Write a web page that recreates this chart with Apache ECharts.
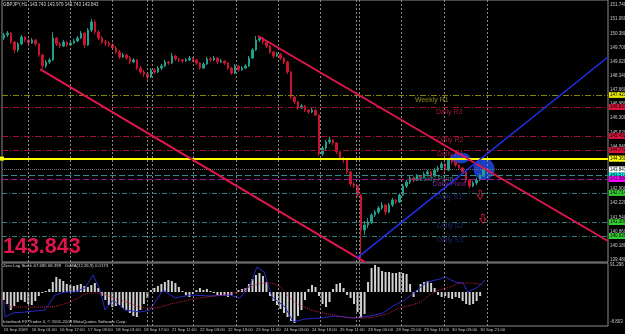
<!DOCTYPE html>
<html><head><meta charset="utf-8">
<script src="https://cdn.jsdelivr.net/npm/echarts@6/dist/echarts.min.js"></script>
<style>html,body{margin:0;padding:0;background:#000;}#c{width:625px;height:334px;}</style>
</head><body><div id="c"></div>
<script>
const FONT = 'Liberation Sans, Arial, sans-serif';
const headerText = 'GBPJPY,H1  143.743 143.979 143.743 143.843';
const lastPriceText = '143.843';
const indicatorText = 'Zero Lag Stoch 67.685 68.399   OsMA(12,26,9) 0.0173';
const footerText = 'Interbank FX Trader 4, \u00a9 2001-2009 MetaQuotes Software Corp.';

const xTickLabels = ['15 Sep 2009','16 Sep 01:00','16 Sep 17:00','17 Sep 09:00','18 Sep 01:00','18 Sep 17:00','21 Sep 11:00','22 Sep 03:00','22 Sep 19:00','23 Sep 11:00','24 Sep 03:00','24 Sep 19:00','25 Sep 11:00','28 Sep 05:00','28 Sep 21:00','29 Sep 13:00','30 Sep 05:00','30 Sep 21:00'];
const priceTicks = [151.74,151.06,150.38,149.70,149.02,148.34,147.66,146.98,146.30,145.62,144.94,144.26,143.58,142.90,142.22,141.54,140.86,140.18,139.48];
const indTickValues = [27,-30];
const indTickLabels = ['91.296','-8.803'];

// 2-hour candles [open, close, low, high]
const ohlc = [
[150.15,150.30,150.06,150.40],[150.30,150.39,150.20,150.49],[150.39,149.96,149.87,150.44],[149.96,149.58,149.43,150.01],
[149.58,149.87,149.48,149.96],[149.87,150.20,149.82,150.30],[150.20,150.06,149.96,150.25],[150.06,149.91,149.82,150.11],
[149.91,150.06,149.87,150.15],[150.06,149.87,149.77,150.11],[149.87,149.34,149.24,149.91],[149.34,148.81,148.66,149.39],
[148.81,149.00,148.71,149.10],[149.00,149.10,148.90,149.19],[149.10,150.15,149.05,150.44],[150.15,149.87,149.77,150.20],
[149.87,149.77,149.67,149.96],[149.77,149.96,149.72,150.06],[149.96,149.82,149.72,150.01],[149.82,149.91,149.77,150.01],
[149.91,150.01,149.87,150.11],[150.01,150.15,149.96,150.25],[150.15,150.39,150.11,150.49],[150.39,149.82,149.67,150.44],
[149.82,150.54,149.77,150.63],[150.54,150.92,150.44,151.07],[150.92,150.44,150.35,151.02],[150.44,150.15,150.06,150.54],
[150.15,149.96,149.87,150.25],[149.96,149.91,149.77,150.06],[149.91,149.82,149.72,150.01],[149.82,149.67,149.58,149.91],
[149.67,149.48,149.39,149.77],[149.48,149.24,149.15,149.58],[149.24,149.34,149.19,149.43],[149.34,149.19,149.10,149.39],
[149.19,149.00,148.90,149.29],[149.00,149.10,148.95,149.19],[149.10,148.71,148.62,149.15],[148.71,148.52,148.42,148.81],
[148.52,148.42,148.28,148.62],[148.42,148.28,148.14,148.52],[148.28,148.62,148.23,148.71],[148.62,148.52,148.42,148.71],
[148.52,148.71,148.47,148.81],[148.71,148.81,148.62,148.90],[148.81,149.00,148.76,149.10],[149.00,148.95,148.86,149.05],
[148.95,149.29,148.90,149.43],[149.29,149.15,149.05,149.34],[149.15,149.10,149.00,149.19],[149.10,149.05,148.95,149.15],
[149.05,149.10,149.00,149.19],[149.10,149.19,149.05,149.29],[149.19,149.10,149.00,149.24],[149.10,148.95,148.86,149.15],
[148.95,148.71,148.62,149.00],[148.71,148.90,148.66,149.00],[148.90,149.15,148.86,149.24],[149.15,149.10,149.00,149.24],
[149.10,149.19,149.05,149.29],[149.19,149.00,148.90,149.24],[149.00,149.05,148.95,149.15],[149.05,148.95,148.86,149.10],
[148.95,148.71,148.62,149.00],[148.71,148.47,148.38,148.76],[148.47,148.81,148.42,148.90],[148.81,148.62,148.52,148.86],
[148.62,148.71,148.57,148.81],[148.71,148.81,148.66,148.90],[148.81,149.19,148.76,149.29],[149.19,149.58,149.15,149.67],
[149.58,150.06,149.53,150.25],[150.06,150.15,149.96,150.25],[150.15,149.96,149.87,150.20],[149.96,149.77,149.67,150.01],
[149.77,149.48,149.39,149.82],[149.48,149.29,149.19,149.53],[149.29,149.39,149.24,149.48],[149.39,149.19,149.10,149.43],
[149.19,149.00,148.90,149.24],[149.00,148.52,148.42,149.05],[148.52,147.32,147.22,148.57],[147.32,147.08,146.98,147.37],
[147.08,146.79,146.69,147.13],[146.79,146.89,146.74,146.98],[146.89,146.69,146.60,146.94],[146.69,146.60,146.50,146.74],
[146.60,146.69,146.55,146.79],[146.69,146.45,146.40,146.74],[146.45,144.58,144.48,146.50],[144.58,144.87,144.48,144.96],
[144.87,145.16,144.77,145.25],[145.16,145.25,145.06,145.45],[145.25,145.11,145.01,145.30],[145.11,144.68,144.58,145.16],
[144.68,144.39,144.29,144.73],[144.39,144.29,144.15,144.44],[144.29,143.72,143.62,144.34],[143.72,143.14,143.04,143.76],
[143.14,143.04,142.94,143.23],[143.04,142.61,142.51,143.09],[142.61,140.93,139.58,142.66],[140.93,141.17,140.69,141.36],
[141.17,141.31,141.02,141.50],[141.31,141.65,141.21,141.74],[141.65,141.79,141.55,141.89],[141.79,141.99,141.70,142.08],
[141.99,142.13,141.89,142.27],[142.13,141.79,141.65,142.18],[141.79,142.13,141.74,142.23],[142.13,142.37,142.03,142.47],
[142.37,142.27,142.18,142.42],[142.27,142.61,142.23,142.71],[142.61,143.04,142.56,143.14],[143.04,143.23,142.94,143.33],
[143.23,143.43,143.14,143.52],[143.43,143.33,143.23,143.48],[143.33,143.52,143.28,143.62],[143.52,143.48,143.38,143.57],
[143.48,143.62,143.43,143.72],[143.62,143.72,143.52,143.81],[143.72,143.52,143.43,143.76],[143.52,143.81,143.48,143.91],
[143.81,143.91,143.72,144.00],[143.91,144.10,143.81,144.20],[144.10,143.81,143.72,144.15],[143.81,144.29,143.76,144.39],
[144.29,144.20,144.10,144.34],[144.20,144.05,143.96,144.29],[144.05,143.91,143.81,144.10],[143.91,143.72,143.62,143.96],
[143.72,143.33,143.23,143.76],[143.33,143.04,142.94,143.38],[143.04,143.19,142.99,143.28],[143.19,143.33,143.09,143.43],
[143.33,143.52,143.28,143.62],[143.52,143.843,143.48,143.91]
];

const osma = [-8,-12,-18,-14,-10,-8,-10,-12,-13,-9,-4,-1,1,3,10,15,13,11,8,7,6,7,8,6,5,7,9,4,-4,-8,
-13,-15,-14,-13,-16,-18,-21,-24,-25,-18,-12,-6,2,4,6,8,10,12,11,9,5,1,-3,-5,-2,2,4,2,3,1,
-1,-3,-4,-4,-5,-3,0,2,3,4,8,13,17,19,16,10,-4,-9,-13,-17,-21,-25,-29,-31,-24,-18,-8,3,7,5,
-4,-12,-15,-10,3,8,9,4,-3,-6,-12,-20,-26,-22,10,24,27,25,21,20,20,19,19,20,19,18,8,-5,2,8,
10,11,9,4,-3,-5,-4,-6,-7,-5,-6,-9,-12,-13,-12,-9,-4,0];

const stochMain = [[0.5,-10],[0.9,-25],[3.1,-21],[6.6,-20],[12.3,-18],[15.1,-3],[18,0],[20.8,0],[23.7,4],[26,17],[28,2],[29.4,-18],[31.7,-8],[35.1,-18],[39.4,-20],[42.2,-18],[46,2],[49.4,-6],[53.7,-3],[59.4,-4],[65.1,-3],[67.9,-6],[70.8,7],[72.8,25],[74.8,20],[77.1,-5],[80.8,-15],[83.1,-30],[86.5,-27],[90.8,-26],[95.1,-24],[100.8,-26],[105.1,-24],[108.8,-21],[111.6,-14],[115,-8],[117.9,0],[121.3,10],[125,13],[126.5,15],[129.3,10],[131.6,9],[133,0],[135.9,5],[137.9,12]];
const stochSignal = [[0,-6],[2.9,-15],[12.3,-15],[18.6,-11],[26,-1],[33.7,-8],[42.2,-16],[49.4,-11],[56.5,-6],[65.9,-1],[75.7,9],[85.1,-13],[94.5,-23],[102.2,-26],[108.8,-23],[113.6,-16],[119.3,-10],[123,-1],[127.9,5],[131.6,9],[133.6,9],[137.3,7]];

const daySeparators = [7.42,19.41,31.4,41.39,42.82,54.52,66.8,78.79,90.78,101.06,101.91,113.9,126.18,138.45];

const pivotBoxNames = ['147.423','146.837','145.452','144.772','143.571','143.384','142.714','141.309','140.639'];
const pivotValues = [147.423,146.837,145.452,144.772,143.571,143.384,142.714,141.309,140.639];
const pivotLineColors = ['#85850a','#a01030','#a01030','#a01030','#2e8b8b','#9a1a9a','#2f7f7f','#2f7f7f','#2f7f7f'];
const pivotBoxColors = ['#e6e600','#dc143c','#dc143c','#dc143c','#00e5e5','#ff00ff','#32cd32','#32cd32','#32cd32'];
const pivotDash = [[6,2,1,2],[6,2,1,2],[6,2,1,2],[6,2,1,2],[6,3],[6,3],[5,2,1,2],[5,2,1,2],[5,2,1,2]];
const yellowLevel = 144.36;
const yellowName = '144.360';
const lastPrice = 143.843;

const textNames = ['Weekly R1','Daily R3','Daily R2','Daily R1','Weekly Pivot','Daily Pivot','Daily S1','Daily S2','Daily S3'];
const textPos = [[117.9,147.175],[123.9,146.60],[124.2,145.25],[124.2,144.58],[117.3,143.38],[123.0,143.14],[123.9,142.51],[124.2,141.12],[124.2,140.45]];
const textColors = ['#a8a81e','#c81e46','#c81e46','#c81e46','#3aa58a','#a030b0','#243088','#243088','#243088'];

const trendRed1 = [[10.85,148.66],[103.6,139.39]];
const trendRed2 = [[73.1,150.25],[173,140.40]];
const trendBlue = [[101.3,139.58],[173,149.24]];
const circles = [[137.6,143.86],[130.8,144.39]];
const circleSizes = [[21,22],[20,11]];
const arrows = [[136.5,142.61],[137.3,141.46]];

const slots = Array.from({length:173},(_,i)=>String(i));

const chart = echarts.init(document.getElementById('c'));
const pivotMarks = pivotValues.map((v,i)=>({
  name: pivotBoxNames[i], yAxis: v,
  lineStyle:{color:pivotLineColors[i], type:pivotDash[i], width:1},
  label:{show:true, position:'end', formatter:'{b}', backgroundColor:pivotBoxColors[i], color:'#000', fontSize:4.5, padding:[1,1,0,1], distance:1, fontFamily:FONT}
}));
pivotMarks.push({name:lastPrice.toFixed(3), yAxis:lastPrice, lineStyle:{color:'#6e6e6e', type:[1,1], width:1},
  label:{show:true, position:'end', formatter:'{b}', backgroundColor:'#ffffff', color:'#000', fontSize:4.5, padding:[1,1,0,1], distance:1, fontFamily:FONT}});

const option = {
  backgroundColor:'#000',
  animation:false,
  grid:[
    {left:2, right:17, top:0, height:262, show:true, borderColor:'#8c8c8c', borderWidth:1, backgroundColor:'#000', outerBoundsMode:'none'},
    {left:2, right:17, top:263, height:63, show:true, borderColor:'#8c8c8c', borderWidth:1, backgroundColor:'#000', outerBoundsMode:'none'}
  ],
  xAxis:[
    {type:'category', gridIndex:0, data:slots, boundaryGap:true, show:false},
    {type:'value', gridIndex:0, min:0, max:173, show:false},
    {type:'category', gridIndex:1, data:slots, boundaryGap:true, axisLine:{show:false}, axisTick:{show:false}, splitLine:{show:false},
      axisLabel:{interval:7, formatter:(v,i)=> xTickLabels[i/8]||'', color:'#c8c8c8', fontSize:4.2, align:'left', margin:2, fontFamily:FONT}},
    {type:'value', gridIndex:1, min:0, max:173, show:false}
  ],
  yAxis:[
    {type:'value', gridIndex:0, position:'right', min:139.391, max:151.98, splitLine:{show:false}, axisLine:{show:false}, axisTick:{show:false},
      axisLabel:{customValues:priceTicks, formatter:v=>v.toFixed(3), color:'#c8c8c8', fontSize:4.5, margin:2, fontFamily:FONT}},
    {type:'value', gridIndex:1, position:'right', min:-34, max:29, splitLine:{show:false}, axisLine:{show:false}, axisTick:{show:false},
      axisLabel:{customValues:indTickValues, formatter:v=>indTickLabels[indTickValues.indexOf(v)]||'', color:'#c8c8c8', fontSize:4.5, margin:2, fontFamily:FONT}}
  ],
  series:[
    {type:'line', xAxisIndex:1, yAxisIndex:0, data:[], silent:true, z:1,
      markLine:{silent:true, symbol:['none','none'], label:{show:false}, lineStyle:{color:'#8a8a8a', type:[2,2], width:1}, data:daySeparators.map(v=>({xAxis:v}))}},
    {type:'line', xAxisIndex:3, yAxisIndex:1, data:[], silent:true, z:1,
      markLine:{silent:true, symbol:['none','none'], label:{show:false}, lineStyle:{color:'#8a8a8a', type:[2,2], width:1}, data:daySeparators.map(v=>({xAxis:v}))}},
    {type:'scatter', xAxisIndex:1, yAxisIndex:0, z:1, silent:true,
      data:circles.map((c,i)=>({value:c, symbolSize:circleSizes[i]})), itemStyle:{color:'#1f4ff0'}},
    {type:'candlestick', xAxisIndex:0, yAxisIndex:0, data:ohlc, barWidth:2, z:2,
      itemStyle:{color:'#1fa08c', color0:'#c8142e', borderColor:'#1fa08c', borderColor0:'#c8142e', borderWidth:1}},
    {type:'line', xAxisIndex:1, yAxisIndex:0, data:[], silent:true, z:3,
      markLine:{silent:true, symbol:['none','none'], data:pivotMarks}},
    {type:'line', xAxisIndex:1, yAxisIndex:0, data:[], silent:true, z:4,
      markLine:{silent:true, symbol:['rect','none'], symbolSize:[4,4], data:[{name:yellowName, yAxis:yellowLevel,
        lineStyle:{color:'#ffff00', type:'solid', width:2},
        label:{show:true, position:'end', formatter:'{b}', backgroundColor:'#ffff00', color:'#000', fontSize:4.5, padding:[1,1,0,1], distance:1, fontFamily:FONT}}]}},
    {type:'scatter', xAxisIndex:1, yAxisIndex:0, symbolSize:0, z:4, silent:true,
      data:textNames.map((n,i)=>({name:n, value:textPos[i], label:{color:textColors[i]}})),
      label:{show:true, position:'right', distance:0, formatter:'{b}', fontSize:7, fontFamily:FONT}},
    {type:'line', xAxisIndex:1, yAxisIndex:0, data:trendRed1, symbol:'none', z:5, lineStyle:{color:'#e0164c', width:2}},
    {type:'line', xAxisIndex:1, yAxisIndex:0, data:trendRed2, symbol:'none', z:5, lineStyle:{color:'#e0164c', width:2}},
    {type:'line', xAxisIndex:1, yAxisIndex:0, data:trendBlue, symbol:'none', z:5, lineStyle:{color:'#2030f0', width:1.5}},
    {type:'scatter', xAxisIndex:1, yAxisIndex:0, z:6, data:arrows, symbol:'path://M3,0 L7,0 L7,6 L10,6 L5,12 L0,6 L3,6 Z', symbolSize:[6,9],
      itemStyle:{color:'rgba(0,0,0,0)', borderColor:'#e0203c', borderWidth:1}},
    {type:'bar', xAxisIndex:2, yAxisIndex:1, data:osma, barWidth:2, itemStyle:{color:'#d0d0d0'}},
    {type:'line', xAxisIndex:3, yAxisIndex:1, data:stochMain, symbol:'none', lineStyle:{color:'#2828c8', width:1}},
    {type:'line', xAxisIndex:3, yAxisIndex:1, data:stochSignal, symbol:'none', smooth:true, lineStyle:{color:'#c41e3a', width:1, type:'dotted'}}
  ],
  graphic:[
    {type:'text', left:3, top:2, z:10, style:{text:headerText, fill:'#d8d8d8', fontSize:4.5, fontFamily:FONT}},
    {type:'text', left:3, top:236, z:10, style:{text:lastPriceText, fill:'#e0154b', fontSize:21.5, fontWeight:'bold', fontFamily:FONT}},
    {type:'text', left:3, top:264, z:10, style:{text:indicatorText, fill:'#d8d8d8', fontSize:4.3, fontFamily:FONT}},
    {type:'text', left:3, top:320, z:10, style:{text:footerText, fill:'#d8d8d8', fontSize:4.3, fontFamily:FONT}}
  ]
};
chart.setOption(option);
</script></body></html>
